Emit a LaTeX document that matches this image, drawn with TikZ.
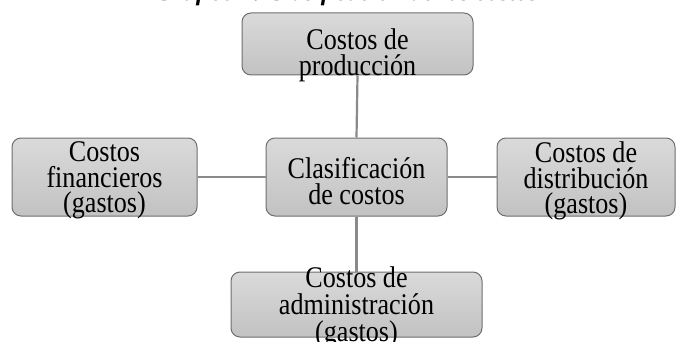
\documentclass[tikz,border=0pt]{standalone}
\usepackage{fontspec}
\setmainfont{Liberation Serif}
\newfontfamily\lblfont[FakeStretch=0.87]{Liberation Serif}
\definecolor{boxtop}{HTML}{DADADA}
\definecolor{boxbot}{HTML}{C2C2C2}
\definecolor{boxborder}{HTML}{6E6E6E}
\definecolor{linkgray}{HTML}{8A8A8A}
\begin{document}
\begin{tikzpicture}[x=1pt,y=-1pt,
  box/.style={draw=boxborder, line width=1pt, rounded corners=9pt,
    top color=boxtop, bottom color=boxbot, inner sep=0pt, minimum height=78pt},
  lbl/.style={anchor=north, align=center, inner sep=0pt,
    font=\lblfont\fontsize{30}{25.5}\selectfont},
  link/.style={draw=linkgray, line width=2.2pt}]
\useasboundingbox (0,0) rectangle (676,342);
\clip (0,0) rectangle (676,342);
% title (cut off at the top in the reference)
\node[anchor=base, inner sep=0pt, font=\bfseries\itshape\fontsize{25}{24}\selectfont] (title) at (347,0.5) {Gráfico 1. Clasificación de los costos};
% boxes
\node[box, minimum width=231pt, minimum height=62pt] (prod) at (357.5,44) {};
\node[box, minimum width=185pt] (fin) at (104.5,177) {};
\node[box, minimum width=181pt] (clas) at (356.5,177) {};
\node[box, minimum width=178pt] (dist) at (586,177) {};
\node[box, minimum width=251pt, minimum height=65pt] (adm) at (356.5,304.5) {};
% connectors
\draw[link] (prod.south) -- (clas.north);
\draw[link] (clas.south) -- (adm.north);
\draw[link] (fin.east) -- (clas.west);
\draw[link] (clas.east) -- (dist.west);
% labels
\node[lbl] (tprod) at (357.5,28.5) {Costos de\\producción};
\node[lbl] (tfin) at (104.5,141.5) {Costos\\financieros\\(gastos)};
\node[lbl] (tclas) at (356.5,157.5) {Clasificación\\de costos};
\node[lbl] (tdist) at (586,141.5) {Costos de\\distribución\\(gastos)};
\node[lbl, font=\lblfont\fontsize{30}{27}\selectfont] (tadm) at (356.5,266.5) {Costos de\\administración\\(gastos)};
\end{tikzpicture}
\end{document}
